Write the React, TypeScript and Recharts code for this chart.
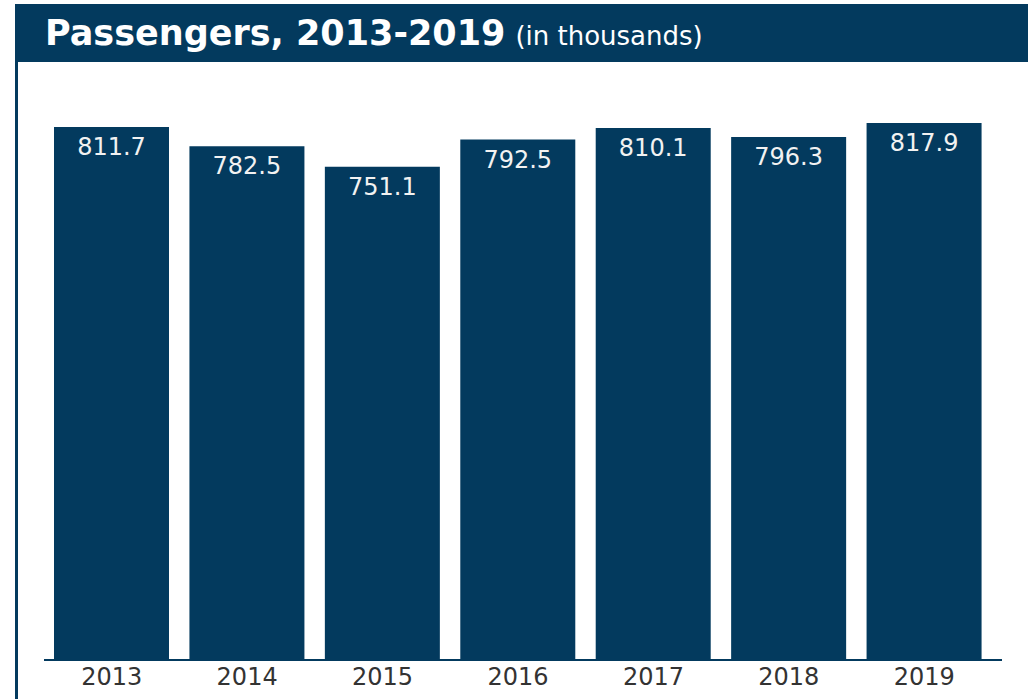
import { BarChart, Bar, XAxis, YAxis, LabelList } from 'recharts';

const years = ['2013', '2014', '2015', '2016', '2017', '2018', '2019'];
const passengers = [811.7, 782.5, 751.1, 792.5, 810.1, 796.3, 817.9];

const navy = '#033a5e';
const font = '"DejaVu Sans", Verdana, sans-serif';

export default function App() {
    const data = years.map((year, i) => ({ year, value: passengers[i] }));

    return (
        <div style={{ position: 'absolute', left: 0, top: 0, width: 1028, height: 699, background: '#fff', overflow: 'hidden', fontFamily: font }}>
            <div style={{ position: 'absolute', left: 15, top: 4, width: 3, height: 695, background: navy }} />
            <div style={{ position: 'absolute', left: 15, top: 4, width: 1013, height: 58, background: navy }}>
                <div style={{ position: 'absolute', left: 30, top: 9, whiteSpace: 'nowrap', color: '#fff' }}>
                    <span style={{ fontSize: 35, fontWeight: 'bold' }}>Passengers, 2013-2019</span>
                    <span style={{ fontSize: 26, marginLeft: 10 }}>(in thousands)</span>
                </div>
            </div>
            <div style={{ position: 'absolute', left: 0, top: 0 }}>
                <BarChart
                    width={1028}
                    height={699}
                    data={data}
                    margin={{ top: 69, right: 26, bottom: 0, left: 44 }}
                    barCategoryGap={10}
                >
                    <YAxis hide domain={[0, 900]} />
                    <XAxis
                        dataKey="year"
                        height={39}
                        tickLine={false}
                        axisLine={{ stroke: navy, strokeWidth: 2 }}
                        padding={{ left: 0, right: 10 }}
                        tick={{ fill: '#333', fontSize: 24, fontFamily: font }}
                        interval={0}
                    />
                    <Bar dataKey="value" fill={navy} isAnimationActive={false}>
                        <LabelList
                            dataKey="value"
                            position="insideTop"
                            offset={11}
                            fill="#f2f2f2"
                            style={{ fontSize: 24, fontFamily: font }}
                        />
                    </Bar>
                </BarChart>
            </div>
        </div>
    );
}
